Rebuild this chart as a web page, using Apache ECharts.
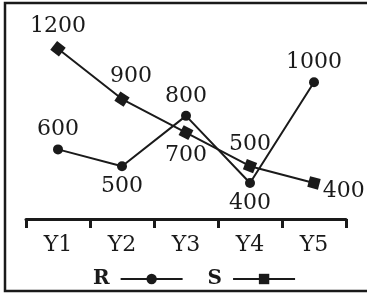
<!DOCTYPE html>
<html>
<head>
<meta charset="utf-8">
<script src="https://cdn.jsdelivr.net/npm/echarts@6/dist/echarts.min.js"></script>
<style>
  html, body { margin: 0; padding: 0; background: #fff; }
  #chart { width: 367px; height: 296px; }
</style>
</head>
<body>
<div id="chart"></div>
<script>
  // data
  var years = ['Y1', 'Y2', 'Y3', 'Y4', 'Y5'];
  var rValues = [600, 500, 800, 400, 1000];
  var sValues = [1200, 900, 700, 500, 400];

  // where each value label sits
  var rLabelPos = ['top', 'bottom', 'top', 'bottom', 'top'];
  var sLabelPos = ['top', 'top', 'bottom', 'top', 'right'];
  var sLabelOffset = [[0, 0], [9, 0], [0, 0], [0, 0], [-2, 8]];

  var serif = 'DejaVu Serif';
  var ink = '#1a1a1a';

  var chart = echarts.init(document.getElementById('chart'));

  function items(values, pos, offs) {
    return values.map(function (v, i) {
      return {
        value: v,
        label: { position: pos[i], offset: offs ? offs[i] : [0, 0] }
      };
    });
  }

  var labelStyle = {
    show: true,
    fontFamily: serif,
    fontSize: 22,
    color: ink,
    distance: 4
  };

  chart.setOption({
    animation: false,
    grid: { left: 26, right: 21, top: 32, bottom: 77 },
    graphic: [{
      // frame: left, top and bottom edges only, the right one is cut off
      type: 'polyline',
      shape: { points: [[370, 3], [5, 3], [5, 291], [370, 291]] },
      style: { fill: 'none', stroke: ink, lineWidth: 2.5 },
      silent: true
    }],
    legend: {
      left: 88,
      top: 264,
      align: 'right',
      itemWidth: 62,
      itemHeight: 13,
      itemGap: 24,
      textStyle: {
        fontFamily: serif,
        fontWeight: 'bold',
        fontSize: 20,
        color: ink,
        padding: [0, 6, 0, 0]
      },
      data: ['R', 'S']
    },
    xAxis: {
      type: 'category',
      data: years,
      boundaryGap: true,
      axisLine: { lineStyle: { color: ink, width: 3 } },
      axisTick: { show: true, length: 9, lineStyle: { color: ink, width: 3 } },
      axisLabel: { fontFamily: serif, fontSize: 22, color: ink, margin: 15 }
    },
    yAxis: {
      type: 'value',
      min: 185,
      max: 1300,
      show: false,
      splitLine: { show: false }
    },
    series: [
      {
        name: 'R',
        type: 'line',
        symbol: 'circle',
        symbolSize: 10,
        lineStyle: { color: ink, width: 2 },
        itemStyle: { color: ink },
        label: labelStyle,
        data: items(rValues, rLabelPos)
      },
      {
        name: 'S',
        type: 'line',
        symbol: 'rect',
        symbolSize: 11,
        lineStyle: { color: ink, width: 2 },
        itemStyle: { color: ink },
        label: labelStyle,
        data: items(sValues, sLabelPos, sLabelOffset)
      }
    ]
  });

  // turn the square markers along the line, like the original drawing
  var pts = sValues.map(function (v, i) {
    return chart.convertToPixel({ seriesIndex: 1 }, [i, v]);
  });
  var sData = items(sValues, sLabelPos, sLabelOffset).map(function (d, i) {
    var a = pts[Math.max(i - 1, 0)];
    var b = pts[Math.min(i + 1, pts.length - 1)];
    d.symbolRotate = -Math.atan2(b[1] - a[1], b[0] - a[0]) * 180 / Math.PI;
    return d;
  });
  chart.setOption({ series: [{}, { data: sData }] });
</script>
</body>
</html>
